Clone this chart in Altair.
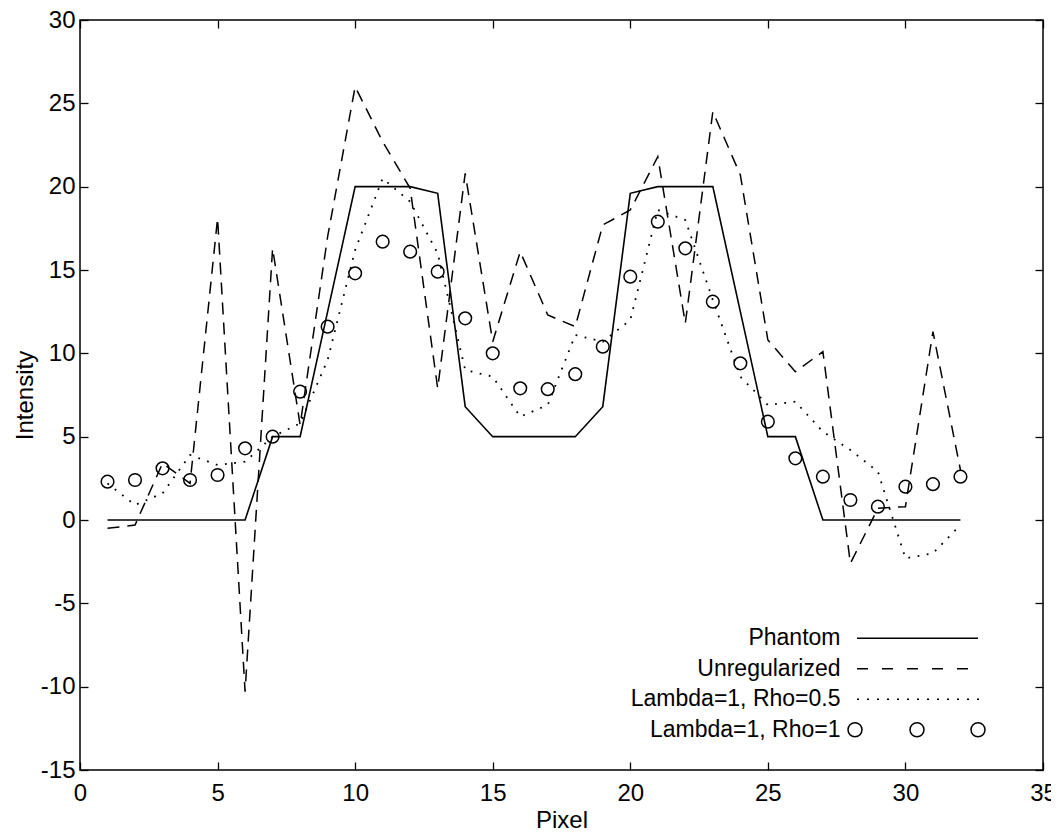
import altair as alt
import pandas as pd

# ---- data ----
pixel = list(range(1, 33))
phantom = [0, 0, 0, 0, 0, 0, 5, 5, 12.5, 20, 20, 20, 19.6, 6.8, 5, 5,
           5, 5, 6.8, 19.6, 20, 20, 20, 12.5, 5, 5, 0, 0, 0, 0, 0, 0]
unregularized = [-0.5, -0.3, 3.4, 2.2, 18.1, -10.3, 16.3, 5.7, 17.0, 26.0, 22.7, 19.9, 7.9, 20.8, 10.7, 16.1,
                 12.3, 11.6, 17.7, 18.6, 21.8, 11.8, 24.5, 20.7, 10.8, 8.9, 10.1, -2.6, 0.7, 0.8, 11.3, 3.0]
rho_half = [2.2, 0.9, 1.6, 3.9, 3.3, 3.5, 5.0, 5.8, 9.6, 16.2, 20.5, 19.1, 16.0, 9.0, 8.6, 6.2,
            6.9, 11.1, 10.7, 12.0, 18.6, 18.0, 13.2, 8.6, 6.9, 7.1, 5.3, 4.2, 2.9, -2.3, -2.0, -0.3]
rho_one = [2.3, 2.4, 3.1, 2.4, 2.7, 4.3, 5.0, 7.7, 11.6, 14.8, 16.7, 16.1, 14.9, 12.1, 10.0, 7.9,
           7.85, 8.75, 10.4, 14.6, 17.9, 16.3, 13.1, 9.4, 5.9, 3.7, 2.6, 1.2, 0.8, 2.0, 2.15, 2.6]

series_names = ["Phantom", "Unregularized", "Lambda=1, Rho=0.5", "Lambda=1, Rho=1"]
x_ticks = [0, 5, 10, 15, 20, 25, 30, 35]
y_ticks = [-15, -10, -5, 0, 5, 10, 15, 20, 25, 30]

rows = []
for name, vals in zip(series_names, [phantom, unregularized, rho_half, rho_one]):
    for p, v in zip(pixel, vals):
        rows.append({"Pixel": p, "Intensity": v, "series": name})
df = pd.DataFrame(rows)
legend_df = pd.DataFrame({"series": series_names, "Pixel": [None] * 4, "Intensity": [None] * 4})

FONT = "Liberation Sans"
FS = 24

# ---- legend symbol shapes: small symbol size (row height), long paths ----
SYM = 24.0            # symbol box in px (sets legend row height)
UNIT = SYM / 2        # px per path unit
SAMPLE = 121.0        # sample length in px

def u(px):
    return -1 + px / UNIT

def segs(pairs):
    return "".join(f"M{u(a):.3f},0L{u(b):.3f},0" for a, b in pairs)

def circle(cpx, rpx):
    cx, r = u(cpx), rpx / UNIT
    k = 0.5523 * r
    return (f"M{cx + r:.3f},0C{cx + r:.3f},{k:.3f},{cx + k:.3f},{r:.3f},{cx:.3f},{r:.3f}"
            f"C{cx - k:.3f},{r:.3f},{cx - r:.3f},{k:.3f},{cx - r:.3f},0"
            f"C{cx - r:.3f},{-k:.3f},{cx - k:.3f},{-r:.3f},{cx:.3f},{-r:.3f}"
            f"C{cx + k:.3f},{-r:.3f},{cx + r:.3f},{-k:.3f},{cx + r:.3f},0Z")

solid_path = segs([(0, SAMPLE)])
dash_path = segs([(i * 25, i * 25 + 11) for i in range(5)])
dot_path = segs([(i * 10, i * 10 + 2) for i in range(13)])
circ_path = circle(-2, 7) + circle(60, 7) + circle(121, 7)

xscale = alt.Scale(domain=[0, 35], nice=False)
yscale = alt.Scale(domain=[-15, 30], nice=False)

tick_common = dict(offset=-8, tickSize=8, tickColor="black", tickWidth=1.3,
                   domain=False, grid=False)

x_bottom = alt.Axis(values=x_ticks, orient="bottom", labelPadding=11, labelFlush=False,
                    labelExpr="datum.value + ''",
                    title="Pixel", titlePadding=3, **tick_common)
y_left = alt.Axis(values=y_ticks, orient="left", labelPadding=5, labelFlush=False,
                  labelExpr="datum.value + ''",
                  title="Intensity", titlePadding=3, **tick_common)
x_top = alt.Axis(values=x_ticks, orient="top", labels=False, title=None, **tick_common)
y_right = alt.Axis(values=y_ticks, orient="right", labels=False, title=None, **tick_common)

base = alt.Chart(df)

phantom_layer = base.transform_filter(alt.datum.series == "Phantom").mark_line(
    color="black", strokeWidth=1.6
).encode(
    x=alt.X("Pixel:Q", scale=xscale, axis=x_bottom),
    y=alt.Y("Intensity:Q", scale=yscale, axis=y_left),
)

unreg_layer = base.transform_filter(alt.datum.series == "Unregularized").mark_line(
    color="black", strokeWidth=1.5, strokeDash=[12, 8]
).encode(
    x=alt.X("Pixel:Q", scale=xscale, axis=None),
    y=alt.Y("Intensity:Q", scale=yscale, axis=None),
)

half_layer = base.transform_filter(alt.datum.series == "Lambda=1, Rho=0.5").mark_line(
    color="black", strokeWidth=1.8, strokeDash=[1.8, 7.5]
).encode(
    x=alt.X("Pixel:Q", scale=xscale, axis=None),
    y=alt.Y("Intensity:Q", scale=yscale, axis=None),
)

circle_layer = base.transform_filter(alt.datum.series == "Lambda=1, Rho=1").mark_point(
    shape="circle", filled=False, color="black", size=160, strokeWidth=1.5, opacity=1
).encode(
    x=alt.X("Pixel:Q", scale=xscale, axis=x_top),
    y=alt.Y("Intensity:Q", scale=yscale, axis=y_right),
)

legend_layer = alt.Chart(legend_df).mark_point(
    filled=False, color="black", strokeWidth=1.5, opacity=1
).encode(
    x=alt.X("Pixel:Q", scale=xscale, axis=None),
    y=alt.Y("Intensity:Q", scale=yscale, axis=None),
    shape=alt.Shape(
        "series:N",
        scale=alt.Scale(domain=series_names, range=[solid_path, dash_path, dot_path, circ_path]),
        legend=alt.Legend(
            orient="none", legendX=776, legendY=605.25, title=None,
            symbolSize=SYM * SYM, symbolStrokeWidth=1.5, symbolStrokeColor="black",
            labelAlign="right", labelOffset={"expr": "-41.5"}, labelFont=FONT, labelFontSize=23,
            labelColor="black", labelLimit=400, rowPadding=5.5, padding=0,
        ),
    ),
)

chart = alt.layer(
    phantom_layer, unreg_layer, half_layer, circle_layer, legend_layer
).resolve_axis(
    x="independent", y="independent"
).properties(
    width=963, height=750,
    autosize=alt.AutoSizeParams(type="none"),
    padding={"left": 72, "top": 12, "right": 8, "bottom": 64},
    background="white",
).configure_view(
    stroke="black", strokeWidth=1.5
).configure_axis(
    labelFont=FONT, labelFontSize=FS, labelColor="black",
    titleFont=FONT, titleFontSize=FS, titleFontWeight="normal", titleColor="black",
)

chart.save("out.html", embed_options={"renderer": "svg", "actions": False})
